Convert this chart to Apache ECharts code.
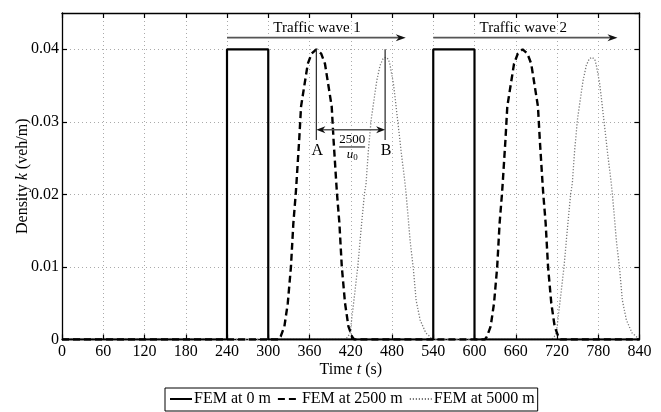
<!DOCTYPE html>
<html><head><meta charset="utf-8">
<script src="https://cdn.jsdelivr.net/npm/echarts@6/dist/echarts.min.js"></script>
<style>html,body{margin:0;padding:0;background:#fff}#c{width:661px;height:412px}</style>
</head><body><div id="c"></div>
<script>
// ---- data ----
const xTickLabels = [0,60,120,180,240,300,360,420,480,540,600,660,720,780,840];
const yTickLabels = [0,0.01,0.02,0.03,0.04];
const seriesNames = ['FEM at 0 m','FEM at 2500 m','FEM at 5000 m'];

const fem0 = [[0,0],[240,0],[240,0.04],[300,0.04],[300,0],[540,0],[540,0.04],[600,0.04],[600,0],[840,0]];

const fem2500 = [
  [0,0],[315,0],[318,0.0004],[323.5,0.0018],[328.4,0.005],[333,0.01],[336.5,0.016],[340,0.0201],[341,0.0215],
  [345,0.0275],[347.7,0.0321],[351.5,0.0344],[357.5,0.038],[363,0.0394],[370,0.040],[377,0.0394],[382.5,0.038],
  [388.5,0.0344],[392.3,0.0321],[395,0.0275],[399,0.0215],[400,0.0201],[403.5,0.016],[407,0.01],[411.7,0.005],
  [416.6,0.0018],[422,0.0004],[425,0],
  [615,0],[618,0.0004],[623.5,0.0018],[628.4,0.005],[633,0.01],[636.5,0.016],[640,0.0201],[641,0.0215],
  [645,0.0275],[647.7,0.0321],[651.5,0.0344],[657.5,0.038],[663,0.0394],[670,0.040],[677,0.0394],[682.5,0.038],
  [688.5,0.0344],[692.3,0.0321],[695,0.0275],[699,0.0215],[700,0.0201],[703.5,0.016],[707,0.01],[711.7,0.005],
  [716.6,0.0018],[722,0.0004],[725,0],[840,0]
];

const fem5000 = [
  [0,0],[412,0],[416,0.0004],[419,0.0009],[422.4,0.0036],[426.3,0.0068],[430.2,0.01],[433.6,0.0137],[439.9,0.0201],
  [442.3,0.0215],[445.7,0.0261],[449.6,0.0302],[453,0.0325],[457.9,0.0357],[462.7,0.0378],[467,0.0387],[471,0.0389],
  [475,0.0386],[477.2,0.0378],[482,0.0353],[485.5,0.0325],[489.3,0.0293],[494.2,0.0252],[499,0.0215],[500.5,0.0201],
  [506.3,0.0137],[511.2,0.0096],[515.1,0.0054],[520.9,0.0027],[529.2,0.0009],[535.4,0.0004],[538,0],
  [712,0],[716,0.0004],[719,0.0009],[722.4,0.0036],[726.3,0.0068],[730.2,0.01],[733.6,0.0137],[739.9,0.0201],
  [742.3,0.0215],[745.7,0.0261],[749.6,0.0302],[753,0.0325],[757.9,0.0357],[762.7,0.0378],[767,0.0387],[771,0.0389],
  [775,0.0386],[777.2,0.0378],[782,0.0353],[785.5,0.0325],[789.3,0.0293],[794.2,0.0252],[799,0.0215],[800.5,0.0201],
  [806.3,0.0137],[811.2,0.0096],[815.1,0.0054],[820.9,0.0027],[829.2,0.0009],[835.4,0.0004],[838,0],[840,0]
];

// annotation anchors in data coordinates
const waveArrows = [
  {text:'Traffic wave 1', from:[240,0.0416], to:[500,0.0416], labelAt:[371,0.0429]},
  {text:'Traffic wave 2', from:[540,0.0416], to:[808,0.0416], labelAt:[671,0.0429]}
];
const markA = {t:370, top:0.04, bottom:0.0275, label:'A', labelK:0.0262};
const markB = {t:470, top:0.04, bottom:0.0275, label:'B', labelK:0.0262};
const spanArrowK = 0.0289;
const fractionAt = [422, 0.0275];

const FONT = 'Liberation Serif';
const chart = echarts.init(document.getElementById('c'), null, {renderer:'canvas'});

const axisCommon = {
  type:'value',
  axisLine:{show:true, onZero:false, lineStyle:{color:'#000', width:1.3}},
  axisTick:{show:true, inside:true, length:5, lineStyle:{color:'#000', width:1.2}},
};

chart.setOption({
  animation:false,
  backgroundColor:'#fff',
  grid:{left:62, right:21.5, top:13, bottom:72.5, containLabel:false, outerBoundsMode:'none'},
  xAxis:[
    Object.assign({}, axisCommon, {
      position:'bottom', min:0, max:840, interval:60,
      axisLabel:{color:'#000', fontFamily:FONT, fontSize:16, margin:4, formatter:v=>xTickLabels.includes(v)?String(v):''},
      splitLine:{show:true, lineStyle:{color:'#aaa', type:[1,3], width:1}},
      name:'{n|Time }{i|t}{n| (s)}', nameLocation:'middle', nameGap:22, nameMoveOverlap:false,
      nameTextStyle:{rich:{n:{fontFamily:FONT,fontSize:16,color:'#000'},i:{fontFamily:FONT,fontSize:16,fontStyle:'italic',color:'#000'}}}
    }),
    Object.assign({}, axisCommon, {
      position:'top', min:0, max:840, interval:60,
      axisLabel:{show:false}, splitLine:{show:false}
    })
  ],
  yAxis:[
    Object.assign({}, axisCommon, {
      position:'left', min:0, max:0.045, interval:0.01,
      axisLabel:{color:'#000', fontFamily:FONT, fontSize:16, margin:3, showMaxLabel:false,
        formatter:v=>{const m=yTickLabels.find(t=>Math.abs(t-v)<1e-9); return m===undefined?'':String(m);}},
      splitLine:{show:true, lineStyle:{color:'#aaa', type:[1,3], width:1}},
      name:'{n|Density }{i|k}{n| (veh/m)}', nameLocation:'middle', nameGap:33, nameMoveOverlap:false,
      nameTextStyle:{padding:[0,0,-1.5,0], rich:{n:{fontFamily:FONT,fontSize:16,color:'#000'},i:{fontFamily:FONT,fontSize:16,fontStyle:'italic',color:'#000'}}}
    }),
    Object.assign({}, axisCommon, {
      position:'right', min:0, max:0.045, interval:0.01,
      axisLabel:{show:false}, splitLine:{show:false}
    })
  ],
  legend:{
    top:388, left:165,
    data:seriesNames,
    borderColor:'#000', borderWidth:1, padding:[3,3,4,4],
    itemWidth:22, itemHeight:14, itemGap:6,
    itemStyle:{opacity:0},
    textStyle:{fontFamily:FONT, fontSize:16, color:'#000', padding:[0,0,0,-3]}
  },
  series:[
    {name:seriesNames[0], type:'line', data:fem0, showSymbol:false, symbol:'none', z:3,
      lineStyle:{color:'#000', width:2.2, type:'solid'}, itemStyle:{color:'#000'}},
    {name:seriesNames[1], type:'line', data:fem2500, showSymbol:false, symbol:'none', z:4,
      lineStyle:{color:'#000', width:2.4, type:[7,4]}, itemStyle:{color:'#000'}},
    {name:seriesNames[2], type:'line', data:fem5000, showSymbol:false, symbol:'none', z:2,
      lineStyle:{color:'#777', width:1.3, type:[1.2,1.8]}, itemStyle:{color:'#777'}}
  ]
});

function px(p){ return chart.convertToPixel({gridIndex:0}, p); }
function arrowHead(tip, dir, len, half, color){
  const nx=-dir[1], ny=dir[0];
  const bx=tip[0]-dir[0]*len, by=tip[1]-dir[1]*len;
  const cx=tip[0]-dir[0]*len*0.7, cy=tip[1]-dir[1]*len*0.7;
  return {type:'polygon', z:20, shape:{points:[[tip[0],tip[1]],[bx+nx*half,by+ny*half],[cx,cy],[bx-nx*half,by-ny*half]]}, style:{fill:color}};
}
const g = [];
waveArrows.forEach(w=>{
  const a=px(w.from), b=px(w.to), l=px(w.labelAt);
  g.push({type:'line', z:20, shape:{x1:a[0],y1:a[1],x2:b[0]-4,y2:b[1]}, style:{stroke:'#555', lineWidth:1.6}});
  g.push(arrowHead(b,[1,0],10,3.5,'#111'));
  g.push({type:'text', z:20, x:l[0], y:l[1], style:{text:w.text, fontFamily:FONT, fontSize:15, fill:'#000', align:'center', verticalAlign:'middle'}});
});
[markA, markB].forEach(m=>{
  const a=px([m.t,m.top]), b=px([m.t,m.bottom]), l=px([m.t,m.labelK]);
  g.push({type:'line', z:20, shape:{x1:a[0],y1:a[1],x2:b[0],y2:b[1]}, style:{stroke:'#333', lineWidth:1.3}});
  g.push({type:'text', z:20, x:l[0]+1, y:l[1]+1, style:{text:m.label, fontFamily:FONT, fontSize:16, fill:'#000', align:'center', verticalAlign:'middle'}});
});
{
  const a=px([markA.t,spanArrowK]), b=px([markB.t,spanArrowK]);
  g.push({type:'line', z:20, shape:{x1:a[0]+4,y1:a[1],x2:b[0]-4,y2:b[1]}, style:{stroke:'#555', lineWidth:1.6}});
  g.push(arrowHead(a,[-1,0],9,3.5,'#111'));
  g.push(arrowHead(b,[1,0],9,3.5,'#111'));
  const f=px(fractionAt);
  g.push({type:'text', z:20, x:f[0], y:f[1], style:{text:'2500', fontFamily:FONT, fontSize:13, fill:'#000', align:'center', verticalAlign:'middle'}});
  g.push({type:'line', z:20, shape:{x1:f[0]-13,y1:f[1]+7,x2:f[0]+13,y2:f[1]+7}, style:{stroke:'#000', lineWidth:1}});
  g.push({type:'text', z:20, x:f[0], y:f[1]+15, style:{text:'{i|u}{s|0}', fontFamily:FONT, align:'center', verticalAlign:'middle',
    rich:{i:{fontFamily:FONT,fontSize:13,fontStyle:'italic',fill:'#000'}, s:{fontFamily:FONT,fontSize:9,fill:'#000',padding:[6,0,0,0]}}}});
}
chart.setOption({graphic:g});
</script>
</body></html>
